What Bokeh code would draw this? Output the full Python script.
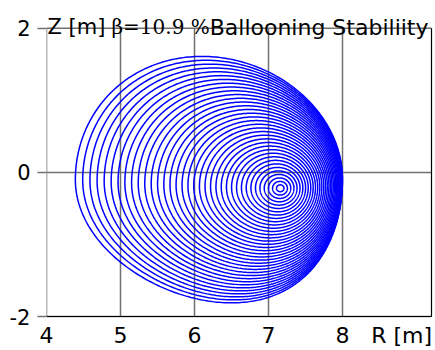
import numpy as np
from bokeh.plotting import figure
from bokeh.models import FixedTicker, Label
from bokeh.embed import file_html
from bokeh.resources import INLINE

# ---- values ----
axis_R = 7.16            # magnetic axis
axis_Z = -0.22
edge_left_R = 4.39       # outermost surface extents
edge_right_R = 8.00
edge_top_R, edge_top_Z = 6.10, 1.61
edge_bot_R, edge_bot_Z = 6.50, -1.81
n_surfaces = 36
shift_power = 1.85       # Shafranov-shift profile exponent

x_ticks = [4, 5, 6, 7, 8]
x_tick_labels = ["4", "5", "6", "7", "8"]
y_ticks = [-2, 0, 2]
y_tick_labels = ["-2", "0", "2"]
x_lo, x_hi = 4.0, 9.2027      # plotted box in data units
y_lo, y_hi = -2.0, 2.0
x_title = "R [m]"
x_title_at = 8.8
title_z = "Z [m] "
title_beta = "β=10.9 %"
title_rest = "Ballooning Stabiliity"

# ---- flux surfaces ----
Rc_b = (edge_left_R + edge_right_R) / 2
a_b = (edge_right_R - edge_left_R) / 2
Zc_b = (edge_top_Z + edge_bot_Z) / 2
kappa = (edge_top_Z - edge_bot_Z) / 2 / a_b
d_up = np.arcsin((Rc_b - edge_top_R) / a_b)
d_lo = np.arcsin((Rc_b - edge_bot_R) / a_b)

theta = np.linspace(0, 2 * np.pi, 361)
xs, ys = [], []
for k in range(1, n_surfaces + 1):
    rho = k / n_surfaces
    Rc = axis_R + (Rc_b - axis_R) * rho ** shift_power
    Zc = axis_Z + (Zc_b - axis_Z) * rho ** shift_power
    delta = np.where(np.sin(theta) >= 0, d_up, d_lo) * rho
    R = Rc + a_b * rho * np.cos(theta + delta * np.sin(theta))
    Z = Zc + kappa * a_b * rho * np.sin(theta)
    xs.append(R.tolist())
    ys.append(Z.tolist())

# frame extends over the title band (28 px above Z=2) so texts are not clipped
sx = 74.0     # px per unit R
sy = 72.5     # px per unit Z
p = figure(width=435, height=350,
           x_range=(x_lo, x_lo + (435 - 46) / sx),
           y_range=(y_lo - 2 / sy, y_hi + 28 / sy),
           output_backend="svg", toolbar_location=None,
           min_border_left=46, min_border_right=0, min_border_top=0, min_border_bottom=30)
p.outline_line_color = None
p.grid.visible = False

grid_col = "#707070"
p.segment(x0=x_ticks, y0=[y_lo] * len(x_ticks), x1=x_ticks, y1=[y_hi] * len(x_ticks),
          line_color=grid_col, line_width=1.5)
p.segment(x0=[x_lo] * len(y_ticks), y0=y_ticks, x1=[x_hi] * len(y_ticks), y1=y_ticks,
          line_color=grid_col, line_width=1.5)
p.segment(x0=[x_hi, x_lo], y0=[y_lo, y_lo], x1=[x_hi, x_hi], y1=[y_hi, y_lo],
          line_color="black", line_width=1.2)

p.multi_line(xs, ys, line_color="#0000ff", line_width=1.5)

p.xaxis.ticker = FixedTicker(ticks=x_ticks + [x_title_at])
overrides = dict(zip(x_ticks, x_tick_labels))
overrides[x_title_at] = x_title
p.xaxis.major_label_overrides = overrides
p.xaxis.axis_line_color = None
p.xaxis.major_tick_line_color = None
p.xaxis.major_tick_out = 0
p.xaxis.major_tick_in = 0
p.xaxis.minor_tick_line_color = None
p.xaxis.minor_tick_out = 0
p.xaxis.major_label_standoff = 4
p.xaxis.major_label_text_font = "DejaVu Sans"
p.xaxis.major_label_text_font_size = "22px"
p.xaxis.major_label_text_color = "black"

p.yaxis.ticker = FixedTicker(ticks=y_ticks)
p.yaxis.major_label_overrides = dict(zip(y_ticks, y_tick_labels))
p.yaxis.axis_line_color = None
p.yaxis.major_tick_line_color = grid_col
p.yaxis.major_tick_line_width = 1.5
p.yaxis.major_tick_out = 9
p.yaxis.major_tick_in = 0
p.yaxis.minor_tick_line_color = None
p.yaxis.major_label_standoff = 7
p.yaxis.major_label_text_font = "DejaVu Sans"
p.yaxis.major_label_text_font_size = "21px"
p.yaxis.major_label_text_color = "black"

px = 1 / sx
p.add_layout(Label(x=x_lo + 1 * px, y=y_hi, y_offset=1, text=title_z, text_baseline="alphabetic",
                   text_font="DejaVu Sans", text_font_size="21px", text_color="black"))
p.add_layout(Label(x=x_lo + 65 * px, y=y_hi, y_offset=1, text=title_beta, text_baseline="alphabetic",
                   text_font="DejaVu Serif", text_font_size="20px", text_color="black"))
p.add_layout(Label(x=x_lo + 382 * px, y=y_hi, y_offset=1, text=title_rest, text_baseline="alphabetic",
                   text_align="right",
                   text_font="DejaVu Sans", text_font_size="22px", text_color="black"))

open("out.html", "w").write(file_html(p, INLINE))
